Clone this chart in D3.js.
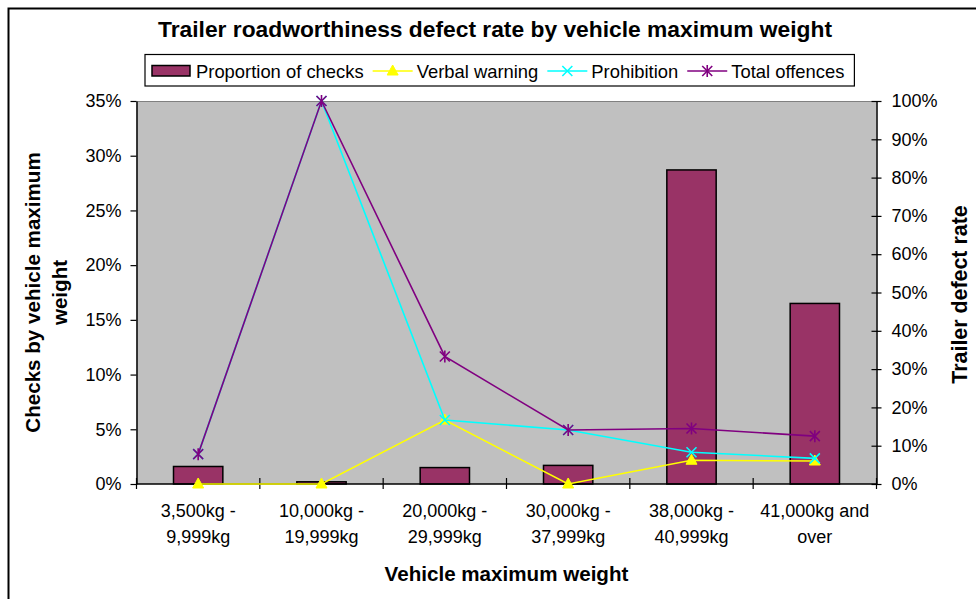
<!DOCTYPE html>
<html>
<head>
<meta charset="utf-8">
<script src="https://cdn.jsdelivr.net/npm/d3@7"></script>
<style>
  body { margin: 0; background: #fff; }
  svg text { font-family: "Liberation Sans", Arial, sans-serif; fill: #000; }
</style>
</head>
<body>
<div id="chart_div"></div>
<script>
// categories (two text lines each)
var categories = ["3,500kg - 9,999kg", "10,000kg - 19,999kg", "20,000kg - 29,999kg",
                  "30,000kg - 37,999kg", "38,000kg - 40,999kg", "41,000kg and over"];
var categoryLines = [["3,500kg -", "9,999kg"], ["10,000kg -", "19,999kg"], ["20,000kg -", "29,999kg"],
                     ["30,000kg -", "37,999kg"], ["38,000kg -", "40,999kg"], ["41,000kg and", "over"]];

// series, in percent
var proportionOfChecks = [1.6, 0.2, 1.5, 1.7, 28.7, 16.5];   // left axis
var verbalWarning = [0, 0, 16.7, 0, 6.2, 6.0];                // right axis
var prohibition = [7.8, 100, 16.7, 14.1, 8.3, 6.7];
var totalOffences = [7.8, 100, 33.3, 14.1, 14.5, 12.5];

var leftTicks = [0, 5, 10, 15, 20, 25, 30, 35];
var rightTicks = [0, 10, 20, 30, 40, 50, 60, 70, 80, 90, 100];

const WIDTH = 976;
const HEIGHT = 599;

var margin = { top: 101, right: 99.5, bottom: 115, left: 136.5 };
var plotW = WIDTH - margin.left - margin.right;
var plotH = HEIGHT - margin.top - margin.bottom;

var svg = d3.select("#chart_div")
    .append("svg")
    .attr("width", WIDTH)
    .attr("height", HEIGHT);

// chart area border (runs off the right and bottom edges)
svg.append("rect")
    .attr("x", 8.5).attr("y", 8.5)
    .attr("width", 1100).attr("height", 1100)
    .attr("fill", "#fff")
    .attr("stroke", "#000")
    .attr("stroke-width", 2);

var x = d3.scaleBand()
    .domain(categories)
    .range([0, plotW])
    .paddingInner(0.6)
    .paddingOuter(0.3);

var yL = d3.scaleLinear().domain([0, 35]).range([plotH, 0]);
var yR = d3.scaleLinear().domain([0, 100]).range([plotH, 0]);

var g = svg.append("g")
    .attr("transform", "translate(" + margin.left + "," + margin.top + ")");

// plot area
g.append("rect")
    .attr("width", plotW).attr("height", plotH)
    .attr("fill", "#c0c0c0");
g.append("line")
    .attr("x1", 0).attr("x2", plotW).attr("y1", 0.5).attr("y2", 0.5)
    .attr("stroke", "#808080").attr("stroke-width", 1);

// bars
g.selectAll("rect.bar")
    .data(proportionOfChecks)
    .enter()
    .append("rect")
    .attr("class", "bar")
    .attr("x", (d, i) => x(categories[i]))
    .attr("width", x.bandwidth())
    .attr("y", d => yL(d))
    .attr("height", d => plotH - yL(d))
    .attr("fill", "#993366")
    .attr("stroke", "#000")
    .attr("stroke-width", 1.5);

// axes
var leftAxis = g.append("g")
    .call(d3.axisLeft(yL).tickValues(leftTicks).tickFormat(d => d + "%")
        .tickSizeInner(6).tickSizeOuter(0).tickPadding(9));
var rightAxis = g.append("g")
    .attr("transform", "translate(" + plotW + ",0)")
    .call(d3.axisRight(yR).tickValues(rightTicks).tickFormat(d => d + "%")
        .tickSizeInner(5).tickSizeOuter(0).tickPadding(10));
rightAxis.selectAll(".tick line").attr("x1", -5);

[leftAxis, rightAxis].forEach(a => {
    a.select(".domain").attr("stroke", "#000").attr("stroke-width", 1.5);
    a.selectAll(".tick line").attr("stroke", "#000").attr("stroke-width", 1.2);
    a.selectAll(".tick text").style("font-size", "18px").attr("fill", "#000");
});

// category axis
g.append("line")
    .attr("x1", 0).attr("x2", plotW).attr("y1", plotH).attr("y2", plotH)
    .attr("stroke", "#000").attr("stroke-width", 1.5);
var boundaries = d3.range(categories.length + 1).map(i => i * x.step());
g.selectAll("line.cattick")
    .data(boundaries)
    .enter()
    .append("line")
    .attr("class", "cattick")
    .attr("x1", d => d).attr("x2", d => d)
    .attr("y1", plotH - 6).attr("y2", plotH + 5)
    .attr("stroke", "#000").attr("stroke-width", 1.2);

var catLabels = g.selectAll("text.cat")
    .data(categoryLines)
    .enter()
    .append("text")
    .attr("class", "cat")
    .attr("text-anchor", "middle")
    .style("font-size", "18px")
    .attr("transform", (d, i) => "translate(" + (x(categories[i]) + x.bandwidth() / 2) + "," + (plotH + 33) + ")");
catLabels.selectAll("tspan")
    .data(d => d)
    .enter()
    .append("tspan")
    .attr("x", 0)
    .attr("y", (d, j) => j * 26)
    .text(d => d);

// lines
var cx = i => x(categories[i]) + x.bandwidth() / 2;
var lineGen = d3.line().x((d, i) => cx(i)).y(d => yR(d));

function drawSeries(values, color, marker) {
    g.append("path")
        .datum(values)
        .attr("d", lineGen)
        .attr("fill", "none")
        .attr("stroke", color)
        .attr("stroke-width", 1.6);
    values.forEach((v, i) => marker(g, cx(i), yR(v), color));
}

function triangleMarker(sel, px, py, color) {
    sel.append("path")
        .attr("d", "M" + px + "," + (py - 6) + "L" + (px + 5.5) + "," + (py + 4) + "L" + (px - 5.5) + "," + (py + 4) + "Z")
        .attr("fill", color).attr("stroke", color).attr("stroke-width", 1);
}
function crossMarker(sel, px, py, color) {
    sel.append("path")
        .attr("d", "M" + (px - 5) + "," + (py - 5) + "L" + (px + 5) + "," + (py + 5) +
                   "M" + (px - 5) + "," + (py + 5) + "L" + (px + 5) + "," + (py - 5))
        .attr("fill", "none").attr("stroke", color).attr("stroke-width", 1.6);
}
function starMarker(sel, px, py, color) {
    crossMarker(sel, px, py, color);
    sel.append("path")
        .attr("d", "M" + px + "," + (py - 6) + "L" + px + "," + (py + 6))
        .attr("fill", "none").attr("stroke", color).attr("stroke-width", 1.6);
}

drawSeries(verbalWarning, "#ffff00", triangleMarker);
drawSeries(prohibition, "#00ffff", crossMarker);
drawSeries(totalOffences, "#800080", starMarker);

// title
svg.append("text")
    .attr("x", 495).attr("y", 37)
    .attr("text-anchor", "middle")
    .style("font-size", "22.8px").style("font-weight", "bold")
    .text("Trailer roadworthiness defect rate by vehicle maximum weight");

// axis titles
svg.append("text")
    .attr("x", margin.left + plotW / 2).attr("y", 581)
    .attr("text-anchor", "middle")
    .style("font-size", "20.6px").style("font-weight", "bold")
    .text("Vehicle maximum weight");

var leftTitle = svg.append("text")
    .attr("transform", "translate(40," + (margin.top + plotH / 2) + ") rotate(-90)")
    .attr("text-anchor", "middle")
    .style("font-size", "20.6px").style("font-weight", "bold");
leftTitle.append("tspan").attr("x", 0).attr("y", 0).text("Checks by vehicle maximum");
leftTitle.append("tspan").attr("x", 0).attr("y", 26.5).text("weight");

svg.append("text")
    .attr("transform", "translate(966.5," + (margin.top + plotH / 2 + 2) + ") rotate(-90)")
    .attr("text-anchor", "middle")
    .style("font-size", "21.4px").style("font-weight", "bold")
    .text("Trailer defect rate");

// legend
var legendItems = [
    { name: "Proportion of checks", color: "#993366", type: "bar" },
    { name: "Verbal warning", color: "#ffff00", type: "line", marker: triangleMarker },
    { name: "Prohibition", color: "#00ffff", type: "line", marker: crossMarker },
    { name: "Total offences", color: "#800080", type: "line", marker: starMarker }
];
var legend = svg.append("g");
var legendBox = legend.append("rect")
    .attr("fill", "#fff").attr("stroke", "#000").attr("stroke-width", 1.2);
var lx = 152, ly = 71;
legendItems.forEach(item => {
    if (item.type === "bar") {
        legend.append("rect")
            .attr("x", lx).attr("y", ly - 5.5).attr("width", 38).attr("height", 10.5)
            .attr("fill", item.color).attr("stroke", "#000").attr("stroke-width", 1.5);
        lx += 44;
    } else {
        legend.append("line")
            .attr("x1", lx).attr("x2", lx + 40).attr("y1", ly).attr("y2", ly)
            .attr("stroke", item.color).attr("stroke-width", 1.6);
        item.marker(legend, lx + 20, ly, item.color);
        lx += 44;
    }
    var t = legend.append("text")
        .attr("x", lx).attr("y", ly + 6.5)
        .style("font-size", "18.4px")
        .text(item.name);
    lx += t.node().getComputedTextLength() + 9;
});
legendBox
    .attr("x", 145).attr("y", 54.5)
    .attr("width", lx - 145 + 1).attr("height", 31.5);
</script>
</body>
</html>
